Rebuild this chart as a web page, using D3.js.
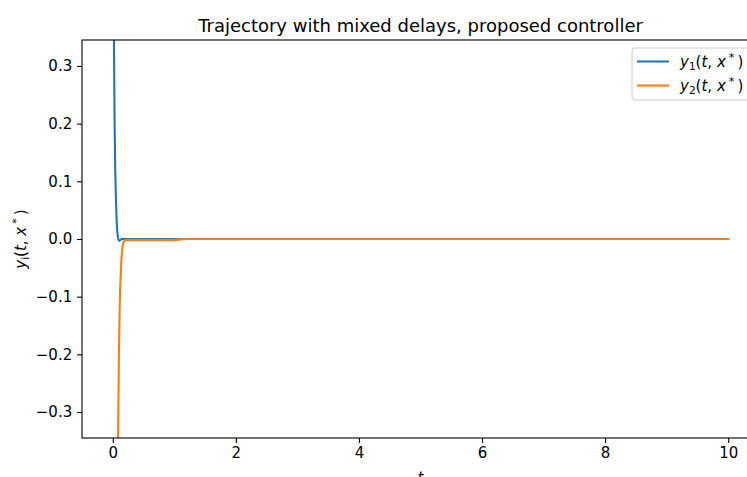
<!DOCTYPE html>
<html><head><meta charset="utf-8">
<script src="https://cdn.jsdelivr.net/npm/d3@7"></script>
<style>
body{margin:0;background:#fff;}
svg{display:block;font-family:"DejaVu Sans",sans-serif;}
</style></head><body>
<div id="chart"></div>
<script>
// Data
const t1 = [0, 0.01, 0.02, 0.03, 0.04, 0.05, 0.06, 0.07, 0.08, 0.09, 0.10, 0.12, 0.15, 0.2, 0.5, 1.0, 2, 4, 6, 8, 10];
const y1 = [1.2, 0.65, 0.33, 0.2, 0.12, 0.075, 0.04, 0.018, 0.006, 0.0, -0.003, -0.002, 0.0, 0.0, 0.0, 0.0, 0, 0, 0, 0, 0];
const t2 = [0, 0.03, 0.06, 0.08, 0.09, 0.10, 0.11, 0.12, 0.14, 0.16, 0.18, 0.2, 0.5, 1.0, 1.1, 1.2, 2, 4, 6, 8, 10];
const y2 = [-3.0, -1.4, -0.65, -0.42, -0.3, -0.2, -0.13, -0.085, -0.035, -0.012, -0.004, -0.002, -0.002, -0.002, -0.0007, 0.0, 0, 0, 0, 0, 0];
const xTicks = [0, 2, 4, 6, 8, 10];
const yTicks = [-0.3, -0.2, -0.1, 0.0, 0.1, 0.2, 0.3];
const seriesNames = ["1", "2"];
const colors = ["#1f77b4", "#ff7f0e"];
const title = "Trajectory with mixed delays, proposed controller";

const W = 747, H = 477;
const FS = 15;
const m = {left: 82, top: 40, right: 759, bottom: 438};
const svg = d3.select("#chart").append("svg").attr("width", W).attr("height", H);

const x = d3.scaleLinear().domain([-0.5, 10.5]).range([m.left, m.right]);
const y = d3.scaleLinear().domain([-0.345, 0.345]).range([m.bottom, m.top]);

svg.append("defs").append("clipPath").attr("id", "clip")
  .append("rect").attr("x", m.left).attr("y", m.top)
  .attr("width", m.right - m.left).attr("height", m.bottom - m.top);

const line = d3.line().x(d => x(d[0])).y(d => y(d[1]));
const series = [d3.zip(t1, y1), d3.zip(t2, y2)];
const g = svg.append("g").attr("clip-path", "url(#clip)");
series.forEach((s, i) => {
  g.append("path").datum(s).attr("d", line).attr("fill", "none")
    .attr("stroke", colors[i]).attr("stroke-width", 2.1)
    .attr("stroke-linejoin", "round").attr("stroke-linecap", "square");
});

// Axes
const fmtY = v => d3.format(".1f")(v).replace("-", "\u2212");
const xAxis = d3.axisBottom(x).tickValues(xTicks).tickSize(4.9).tickPadding(4.9).tickFormat(d3.format("d"));
const yAxis = d3.axisLeft(y).tickValues(yTicks).tickSize(4.9).tickPadding(4.9).tickFormat(fmtY);
const gx = svg.append("g").attr("transform", `translate(0,${m.bottom})`).call(xAxis);
const gy = svg.append("g").attr("transform", `translate(${m.left},0)`).call(yAxis);
[gx, gy].forEach(a => {
  a.select(".domain").remove();
  a.selectAll("line").attr("stroke", "#000").attr("stroke-width", 1.1);
  a.selectAll("text").attr("fill", "#000").style("font-size", FS + "px").style("font-family", "DejaVu Sans");
});

// Spines
const sp = svg.append("g").attr("fill", "none").attr("stroke", "#000").attr("stroke-width", 1.1);
sp.append("rect").attr("x", m.left).attr("y", m.top).attr("width", m.right - m.left).attr("height", m.bottom - m.top);

// Title
svg.append("text").attr("x", (m.left + m.right) / 2).attr("y", 31.5)
  .attr("text-anchor", "middle").style("font-size", "18px").text(title);

// X label (partly cut by the bottom edge, as in the reference)
svg.append("text").attr("x", (m.left + m.right) / 2).attr("y", 483)
  .attr("text-anchor", "middle").style("font-size", FS + "px").style("font-style", "italic").text("t");

// Y label (mathtext-like)
function mathLabel(sel, sub, size) {
  sel.append("tspan").style("font-style", "italic").text("y");
  sel.append("tspan").attr("dy", size * 0.22).style("font-size", (size * 0.7) + "px").text(sub);
  sel.append("tspan").attr("dy", -size * 0.22).text("(");
  sel.append("tspan").style("font-style", "italic").text("t");
  sel.append("tspan").text(", ");
  sel.append("tspan").style("font-style", "italic").text("x");
  sel.append("tspan").attr("dx", size * 0.2).attr("dy", -size * 0.38).style("font-size", (size * 0.75) + "px").text("*");
  sel.append("tspan").attr("dx", size * 0.2).attr("dy", size * 0.38).text(")");
}
const yl = svg.append("text").attr("transform", `translate(26,${(m.top + m.bottom) / 2}) rotate(-90)`)
  .attr("text-anchor", "middle").style("font-size", FS + "px");
mathLabel(yl, "i", FS);

// Legend
const lg = svg.append("g").attr("transform", "translate(632,48)");
lg.append("rect").attr("x", 0).attr("y", 0).attr("width", 130).attr("height", 52)
  .attr("rx", 3).attr("fill", "#fff").attr("fill-opacity", 0.8)
  .attr("stroke", "#cccccc").attr("stroke-width", 1);
seriesNames.forEach((n, i) => {
  const yy = 13.5 + i * 24;
  lg.append("line").attr("x1", 5).attr("x2", 37).attr("y1", yy).attr("y2", yy)
    .attr("stroke", colors[i]).attr("stroke-width", 2.1);
  const t = lg.append("text").attr("x", 48).attr("y", yy + 5.5).style("font-size", FS + "px");
  mathLabel(t, n, FS);
});
</script>
</body></html>
